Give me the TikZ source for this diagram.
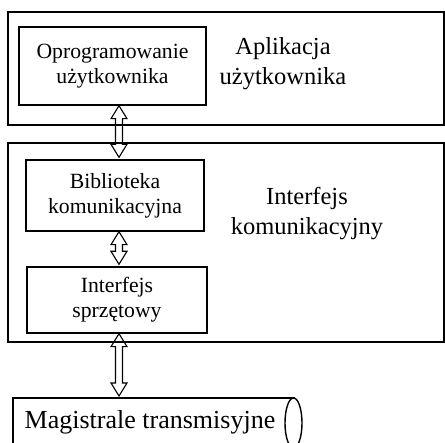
\documentclass[tikz,border=0pt]{standalone}
\usepackage{fontspec}
\setmainfont{Liberation Serif}
\usetikzlibrary{calc}
\tikzset{
  box/.style={draw, line width=1.4pt, inner sep=0pt, align=center},
  small/.style={font=\fontsize{21.7}{25}\selectfont},
  big/.style={font=\fontsize{24.5}{30}\selectfont},
  lbl/.style={inner sep=0pt, align=center},
  dblarrow/.style={line width=1.1pt, to path={let \p1=(\tikztostart), \p2=(\tikztotarget) in
    (\x1,\y1) -- (\x1+8pt,\y1-13pt) -- (\x1+3.5pt,\y1-13pt) -- (\x1+3.5pt,\y2+13pt) -- (\x1+8pt,\y2+13pt)
    -- (\x1,\y2) -- (\x1-8pt,\y2+13pt) -- (\x1-3.5pt,\y2+13pt) -- (\x1-3.5pt,\y1-13pt) -- (\x1-8pt,\y1-13pt) -- cycle}}
}
\begin{document}
\begin{tikzpicture}[x=1pt,y=-1pt]
\useasboundingbox (0,0) rectangle (445,443);
% outer boxes
\node[box, minimum width=436pt, minimum height=113pt] (app) at (226,68.5) {};
\node[box, minimum width=436pt, minimum height=199pt] (ifc) at (226,242.5) {};
% inner boxes
\node[box, small, minimum width=187pt, minimum height=78pt] (oprog) at (112.5,66) {Oprogramowanie\\użytkownika};
\node[box, small, minimum width=178pt, minimum height=71pt] (bibl) at (115,195.5) {Biblioteka\\komunikacyjna};
\node[box, small, minimum width=180pt, minimum height=66pt] (sprz) at (117,300) {Interfejs\\sprzętowy};
% labels
\node[lbl, big] (applbl) at (283,64) {Aplikacja\\użytkownika};
\node[lbl, big] (ifclbl) at (307,214) {Interfejs\\komunikacyjny};
% bus
\draw[line width=1.4pt] (295,398) -- (13,398) -- (13,460);
\draw[line width=1.4pt] (293.5,423) ellipse [x radius=8.5, y radius=25];
\node[lbl, font=\fontsize{26}{30}\selectfont] (bus) at (150,422) {Magistrale transmisyjne};
\coordinate (busTop) at (119,396);
% arrows
\coordinate (ax) at (119,0);
\draw[dblarrow] (oprog.south -| ax) to ($(bibl.north -| ax)+(0,-2)$);
\draw[dblarrow] (bibl.south -| ax) to ($(sprz.north -| ax)+(0,-2)$);
\draw[dblarrow] (sprz.south -| ax) to (busTop);
\end{tikzpicture}
\end{document}
